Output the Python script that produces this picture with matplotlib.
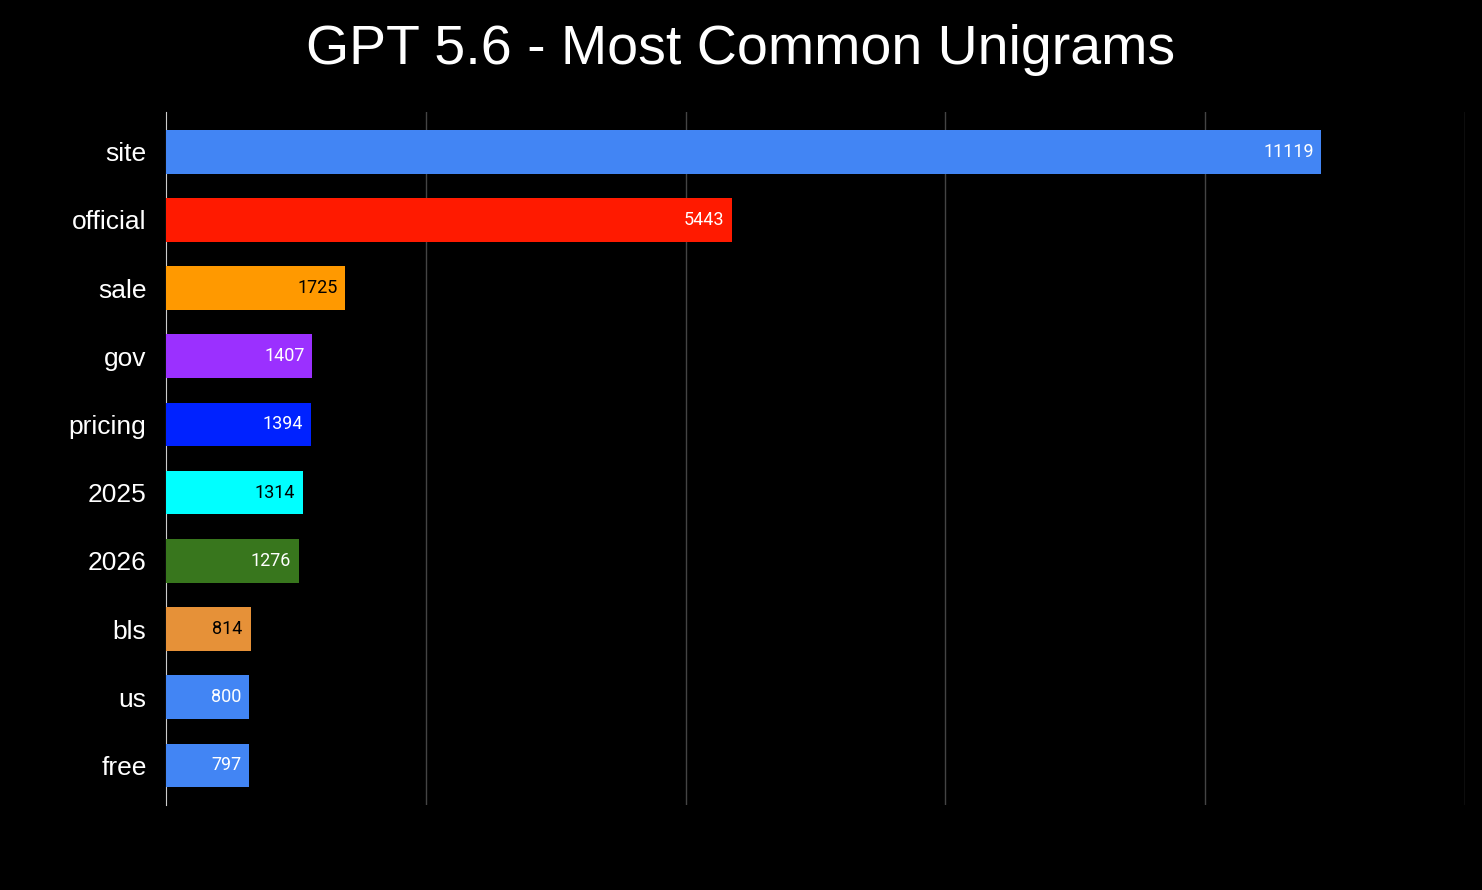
import matplotlib.pyplot as plt

words = ["site", "official", "sale", "gov", "pricing", "2025", "2026", "bls", "us", "free"]
counts = [11119, 5443, 1725, 1407, 1394, 1314, 1276, 814, 800, 797]
colors = ["#4285F4", "#FF1A00", "#FF9900", "#9B30FF", "#0022FF",
          "#00FFFF", "#38761D", "#E69138", "#4285F4", "#4285F4"]
text_colors = ["white", "white", "black", "white", "white",
               "black", "white", "black", "white", "white"]

fig = plt.figure(figsize=(14.82, 8.90), dpi=100, facecolor="black")
ax = fig.add_axes([0.112, 0.0955, 0.8765, 0.7785], facecolor="black")

y = list(range(len(words)))
ax.barh(y, counts, height=0.64, color=colors, zorder=3)
for yi, c, tc in zip(y, counts, text_colors):
    ax.text(c - 75, yi, str(c), ha="right", va="center", color=tc,
            fontsize=13, family="Roboto", zorder=4)

ax.set_xlim(0, 12500)
ax.set_ylim(len(words) - 0.5 + 0.08, -0.5 - 0.08)
ax.set_yticks(y)
ax.set_yticklabels(words, color="white", fontsize=19, family="Liberation Sans")
ax.tick_params(axis="y", length=0, pad=14)
ax.set_xticks([2500, 5000, 7500, 10000, 12500])
ax.tick_params(axis="x", length=0, labelbottom=False)
ax.grid(axis="x", color="#444444", linewidth=1, zorder=0)
for s in ["top", "right", "bottom"]:
    ax.spines[s].set_visible(False)
ax.spines["left"].set_color("#cccccc")

fig.text(0.5, 0.944, "GPT 5.6 - Most Common Unigrams", ha="center", va="center",
         color="white", fontsize=40, family="Liberation Sans")

fig.savefig("out.png", facecolor="black")
